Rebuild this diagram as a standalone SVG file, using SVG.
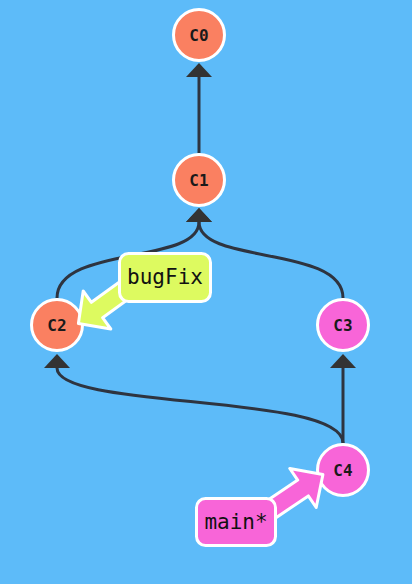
<svg xmlns="http://www.w3.org/2000/svg" width="412" height="584" viewBox="0 0 412 584">
  <style>
    .edge { fill: none; stroke: #2e3440; stroke-width: 3; marker-end: url(#ah); }
    .node circle { stroke: #ffffff; stroke-width: 3; }
    .orange { fill: #fa8061; }
    .pink { fill: #f865d8; }
    .lime { fill: #ddfa60; }
    .node text { font-family: "DejaVu Sans Mono", "Liberation Mono", monospace; font-weight: bold; font-size: 16px; fill: #1a1a1a; text-anchor: middle; }
    .label rect, .label polygon { stroke: #ffffff; stroke-width: 3; stroke-linejoin: round; }
    .label text { font-family: "DejaVu Sans Mono", "Liberation Mono", monospace; font-size: 21px; fill: #111111; text-anchor: middle; }
  </style>
  <defs>
    <marker id="ah" markerUnits="userSpaceOnUse" viewBox="0 -13 14 26" markerWidth="14" markerHeight="26" refX="0" refY="0" orient="auto">
      <path d="M0,-13 L14,0 L0,13 Z" fill="#333333"/>
    </marker>
  </defs>
  <rect x="0" y="0" width="412" height="584" fill="#5dbbf9"/>
  <g id="connectors">
    <path class="edge" d="M199 153 L199 77"/>
    <path class="edge" d="M57 298 C57 245, 199 265, 199 222"/>
    <path class="edge" d="M343 298 C343 245, 199 265, 199 222"/>
    <path class="edge" d="M343 443 L343 368"/>
    <path class="edge" d="M343 443 C343 393, 57 410, 57 368"/>
  </g>
  <g id="C0" class="node"><circle class="orange" cx="199" cy="35" r="25.5"/><text x="199" y="41">C0</text></g>
  <g id="C1" class="node"><circle class="orange" cx="199" cy="180" r="25.5"/><text x="199" y="186">C1</text></g>
  <g id="C2" class="node"><circle class="orange" cx="57" cy="325" r="25.5"/><text x="57" y="331">C2</text></g>
  <g id="C3" class="node"><circle class="pink" cx="343" cy="325" r="25.5"/><text x="343" y="331">C3</text></g>
  <g id="C4" class="node"><circle class="pink" cx="343" cy="470" r="25.5"/><text x="343" y="476">C4</text></g>
  <g id="bugFix" class="label">
    <polygon class="lime" points="78.4,323.5 110.8,329 102.6,317.7 143.1,288.4 131.9,273 91.4,302.3 83.2,291"/>
    <rect class="lime" x="119.5" y="253.5" width="91" height="48" rx="9"/>
    <text x="165" y="284">bugFix</text>
  </g>
  <g id="main" class="label">
    <polygon class="pink" points="322.9,474.6 316.2,507.5 308.3,495.9 266.8,523.9 256.2,508.1 297.7,480.1 289.8,468.5"/>
    <rect class="pink" x="196.5" y="498.5" width="79" height="47" rx="9"/>
    <text x="236" y="529">main*</text>
  </g>
</svg>
